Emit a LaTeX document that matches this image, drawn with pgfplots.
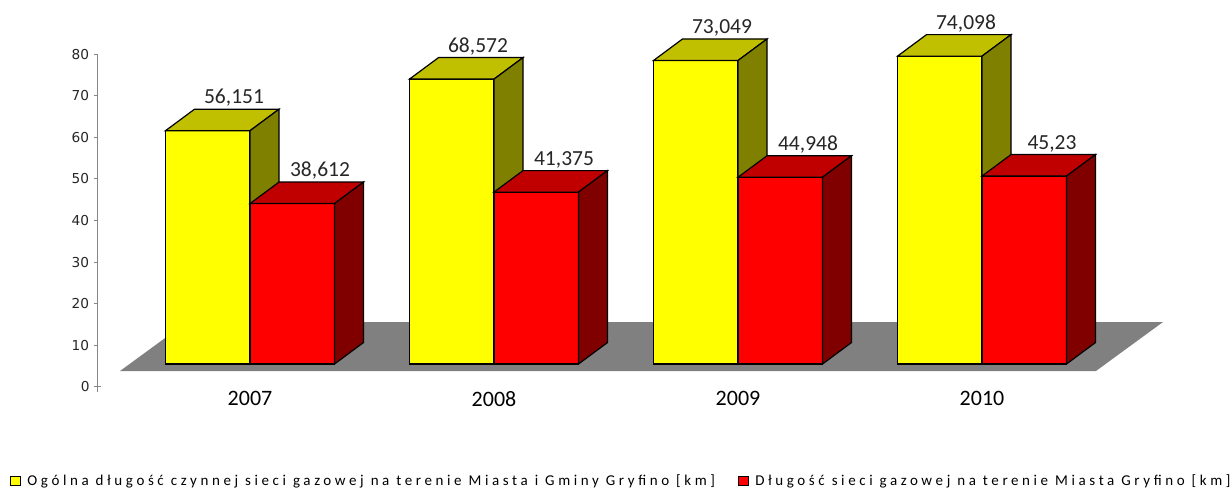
\documentclass[border=0pt]{standalone}
\usepackage{pgfplots}
\pgfplotsset{compat=1.18}
\usepackage{pgfplotstable}
\usepackage{fontspec}
\setmainfont{Carlito}
\newfontfamily\tickfont{DejaVu Sans}
\newfontfamily\legfont{Carlito}[LetterSpace=24]

\definecolor{yfront}{HTML}{FFFF00}
\definecolor{ytop}{HTML}{C0C000}
\definecolor{yside}{HTML}{808000}
\definecolor{rfront}{HTML}{FF0000}
\definecolor{rtop}{HTML}{C00000}
\definecolor{rside}{HTML}{800000}
\definecolor{floorgray}{HTML}{808080}
\definecolor{axisgray}{HTML}{868686}

\pgfdeclareplotmark{nothing}{}
\newdimen\barh

\pgfplotstableread{
x y
0 56.151
1 68.572
2 73.049
3 74.098
}\ogolna
\pgfplotstableread{
x y
0 38.612
1 41.375
2 44.948
3 45.23
}\miasto

% front, top and side faces of a box whose front spans x from #1 to #2 (relative to the point)
\newcommand\boxfaces[5]{%
  \pgfscope
  \barh=0.4155pt \barh=\pgfplotspointmetatransformed\barh
  \pgfsetlinewidth{1.2pt}\pgfsetmiterjoin\pgfsetstrokecolor{black}%
  \pgfsetfillcolor{#3}%
  \pgfpathrectanglecorners{\pgfpoint{#1}{-\barh}}{\pgfpoint{#2}{0pt}}%
  \pgfusepath{fill,stroke}%
  \pgfsetfillcolor{#4}%
  \pgfpathmoveto{\pgfpoint{#1}{0pt}}%
  \pgfpathlineto{\pgfpoint{#1+29pt}{21.5pt}}%
  \pgfpathlineto{\pgfpoint{#2+29pt}{21.5pt}}%
  \pgfpathlineto{\pgfpoint{#2}{0pt}}%
  \pgfpathclose\pgfusepath{fill,stroke}%
  \pgfsetfillcolor{#5}%
  \pgfpathmoveto{\pgfpoint{#2}{0pt}}%
  \pgfpathlineto{\pgfpoint{#2+29pt}{21.5pt}}%
  \pgfpathlineto{\pgfpoint{#2+29pt}{21.5pt-\barh}}%
  \pgfpathlineto{\pgfpoint{#2}{-\barh}}%
  \pgfpathclose\pgfusepath{fill,stroke}%
  \endpgfscope
}

\pgfplotsset{
  barfront/.style={
    ybar, bar width=84.5pt, draw=black, line width=1.2pt,
    nodes near coords={\pgfmathprintnumber[fixed, precision=3, use comma, assume math mode=true]{\pgfplotspointmeta}},
    every node near coord/.append style={anchor=base, yshift=27pt,
      font=\fontsize{21.5}{26}\selectfont, text=black!85, inner sep=0pt},
    legend image code/.code={\draw[##1, draw=black, line width=1.2pt] (0pt,-4.2pt) rectangle (9.5pt,4.2pt);},
  },
  yfaces/.style={
    scatter, only marks, mark=nothing, forget plot, point meta=y,
    scatter/@pre marker code/.code={\boxfaces{-84.5pt}{0pt}{yfront}{ytop}{yside}},
    scatter/@post marker code/.code={},
  },
  rfaces/.style={
    scatter, only marks, mark=nothing, forget plot, point meta=y,
    scatter/@pre marker code/.code={\boxfaces{0pt}{84.5pt}{rfront}{rtop}{rside}},
    scatter/@post marker code/.code={},
  },
}

\begin{document}
\begin{tikzpicture}
\path[use as bounding box] (0pt,0pt) rectangle (1232pt,491pt);
\begin{axis}[
  at={(97.7pt,104.3pt)}, anchor=south west,
  x=244pt, y=4.155pt,
  xmin=-0.6242, xmax=3.7418,
  ymin=-5.46, ymax=74.54,
  point meta min=0, point meta max=100,
  clip=false,
  axis lines*=left,
  x axis line style={draw=none},
  y axis line style={draw=axisgray, line width=1pt, shorten <=-5pt},
  xtick={0,1,2,3},
  xticklabels={2007,2008,2009,2010},
  xtick style={draw=none},
  xticklabel style={anchor=north, inner sep=0pt, yshift=-0.5pt,
    font=\fontsize{22}{26}\selectfont, text=black},
  ytick={4.54,14.54,24.54,34.54,44.54,54.54,64.54,74.54},
  yticklabels={10,20,30,40,50,60,70,80},
  extra y ticks={-5.46},
  extra y tick labels={0},
  extra y tick style={tick align=center, major tick length=7pt},
  tick align=outside,
  major tick length=4pt,
  ytick style={draw=axisgray, line width=1pt},
  yticklabel style={font=\tickfont\fontsize{13.7}{16}\selectfont, text=black!85, inner sep=0pt, xshift=-4.4pt},
  legend columns=2,
  legend style={draw=none, fill=none, at={(-0.0823,-0.2837)}, anchor=west,
    inner sep=0pt, font=\legfont\fontsize{15}{18}\selectfont,
    /tikz/every odd column/.append style={column sep=4.5pt},
    /tikz/every even column/.append style={column sep=21pt},
    cells={anchor=west}},
]
% floor
\addplot[fill=floorgray, draw=none, forget plot] coordinates {
  (-0.5328,-1.685) (3.467,-1.685) (3.7418,10.11) (-0.2582,10.11)} -- cycle;

% yellow series
\addplot[barfront, fill=yfront, bar shift=-42.25pt,
  every node near coord/.append style={xshift=-16pt}]
  table[x=x, y=y] {\ogolna};
\addlegendentry{Ogólna długość czynnej sieci gazowej na terenie Miasta i Gminy Gryfino [km]}

% red series
\addplot[barfront, fill=rfront, bar shift=42.25pt,
  every node near coord/.append style={xshift=70pt}]
  table[x=x, y=y] {\miasto};
\addlegendentry{Długość sieci gazowej na terenie Miasta Gryfino [km]}

% 3D boxes (front, top, side) for both series, drawn in order
\addplot[yfaces] table[x=x, y=y] {\ogolna};
\addplot[rfaces] table[x=x, y=y] {\miasto};
\end{axis}
\end{tikzpicture}
\end{document}
